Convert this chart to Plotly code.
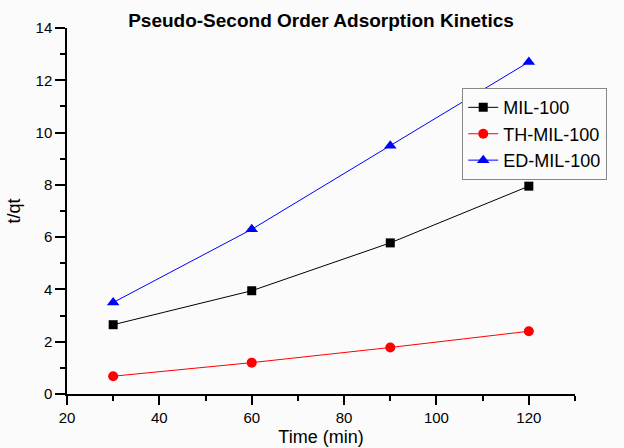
import plotly.graph_objects as go

time_min = [30, 60, 90, 120]
mil100 = [2.65, 3.95, 5.78, 7.95]
th_mil100 = [0.68, 1.20, 1.78, 2.40]
ed_mil100 = [3.50, 6.30, 9.50, 12.70]

fig = go.Figure()
fig.add_trace(go.Scatter(x=time_min, y=mil100, mode="lines+markers", name="MIL-100",
                         line=dict(color="black", width=1),
                         marker=dict(symbol="square", size=9, color="black")))
fig.add_trace(go.Scatter(x=time_min, y=th_mil100, mode="lines+markers", name="TH-MIL-100",
                         line=dict(color="red", width=1),
                         marker=dict(symbol="circle", size=10, color="red")))
fig.add_trace(go.Scatter(x=time_min, y=ed_mil100, mode="lines+markers", name="ED-MIL-100",
                         line=dict(color="blue", width=1),
                         marker=dict(symbol="triangle-up", size=11, color="blue")))

axis_common = dict(showline=True, linecolor="black", linewidth=1.5, ticks="outside",
                   tickcolor="black", tickwidth=1.5, showgrid=False, automargin=False,
                   zeroline=False, tickfont=dict(family="Arial", size=15, color="black"),
                   title_font=dict(family="Arial", size=18, color="black"), mirror=False)

fig.update_layout(
    width=624, height=448,
    margin=dict(l=67, r=49, t=28, b=54),
    paper_bgcolor="#fbfbfb", plot_bgcolor="#fbfbfb",
    title=dict(text="<b>Pseudo-Second Order Adsorption Kinetics</b>", x=0.5, xref="paper",
               xanchor="center", y=0.955, yanchor="middle",
               font=dict(family="Arial", size=19, color="black")),
    xaxis=dict(range=[20, 130], tickvals=[20, 40, 60, 80, 100, 120], ticklen=9,
               title=dict(text="Time (min)", standoff=6),
               minor=dict(dtick=10, ticks="outside", ticklen=5, tickcolor="black", tickwidth=1.5),
               **axis_common),
    yaxis=dict(range=[0, 14], dtick=2, ticklen=10, title=dict(text="t/qt", standoff=10),
               minor=dict(dtick=1, ticks="outside", ticklen=5, tickcolor="black", tickwidth=1.5),
               **axis_common),
    legend=dict(x=0.778, y=0.71, xanchor="left", yanchor="middle", bordercolor="#888888",
                borderwidth=1, bgcolor="#fbfbfb",
                font=dict(family="Arial", size=18, color="black"), tracegroupgap=0),
    showlegend=True,
)

fig.write_html("out.html")
